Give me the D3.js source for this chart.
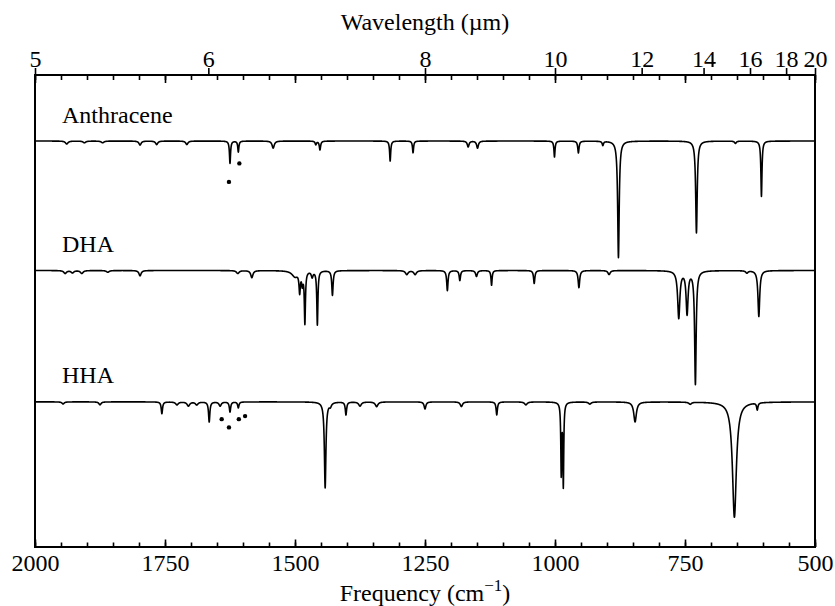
<!DOCTYPE html>
<html>
<head>
<meta charset="utf-8">
<script src="https://cdn.jsdelivr.net/npm/d3@7"></script>
<style>
  body { margin: 0; background: #fff; }
</style>
</head>
<body>
<svg id="chart" width="835" height="606"></svg>
<script>
// ---- axes ----
const freqDomain = [2000, 500];                       // cm^-1, high to low
const freqMajorTicks = [2000, 1750, 1500, 1250, 1000, 750, 500];
const freqMinorTicks = d3.range(2000, 499, -50);
const wavelengthTicks = [5, 6, 8, 10, 12, 14, 16, 18, 20];   // µm

// ---- spectra: band centre (cm^-1), depth (rel. absorbance), FWHM (cm^-1) ----
const compounds = ["Anthracene", "DHA", "HHA"];
const offsets = [0, -1.1, -2.216];

const anthraceneCenters = [1939, 1905, 1870, 1798, 1766, 1708, 1625, 1609, 1542, 1460, 1452, 1317, 1273, 1167, 1149, 1001, 955, 908, 878, 728, 653, 603];
const anthraceneDepths  = [0.025, 0.015, 0.015, 0.034, 0.03, 0.03, 0.19, 0.093, 0.06, 0.03, 0.075, 0.17, 0.10, 0.05, 0.06, 0.135, 0.10, 0.035, 0.99, 0.78, 0.02, 0.47];
const anthraceneWidths  = [6, 6, 6, 5, 5, 5, 2.5, 2.5, 5, 3, 3, 2.5, 2.5, 4, 4, 2.5, 3, 3, 3.5, 3.5, 4, 2.5];

const dhaCenters = [1942, 1928, 1910, 1860, 1798, 1610, 1583, 1500, 1491, 1486, 1481, 1467, 1457, 1428, 1285, 1269, 1207, 1183, 1151, 1122, 1040, 954, 896, 762, 746, 730, 631, 608];
const dhaDepths  = [0.025, 0.02, 0.025, 0.015, 0.045, 0.025, 0.06, 0.05, 0.17, 0.10, 0.44, 0.05, 0.46, 0.21, 0.034, 0.034, 0.17, 0.085, 0.05, 0.125, 0.11, 0.145, 0.034, 0.40, 0.36, 0.96, 0.02, 0.39];
const dhaWidths  = [6, 6, 6, 6, 5, 6, 5, 14, 3, 3, 2.5, 4, 2.5, 3, 6, 6, 3, 3, 4, 2.5, 3, 3.5, 5, 5, 4.5, 3.5, 5, 4];

const hhaCenters = [1946, 1875, 1756, 1727, 1705, 1689, 1665, 1644, 1625, 1609, 1442, 1432, 1402, 1375, 1343, 1250, 1180, 1112, 1056, 988, 984, 933, 846, 740, 655, 611];
const hhaDepths  = [0.018, 0.025, 0.10, 0.025, 0.035, 0.025, 0.17, 0.035, 0.085, 0.05, 0.73, 0.03, 0.11, 0.035, 0.04, 0.06, 0.04, 0.11, 0.025, 0.60, 0.70, 0.018, 0.17, 0.018, 0.98, 0.06];
const hhaWidths  = [5, 5, 3, 6, 6, 6, 3, 5, 3, 3, 3.5, 5, 3, 6, 6, 4, 5, 3, 6, 2, 2, 6, 6, 6, 9, 3];

// ---- marked bands (cm^-1, offset absorbance) ----
const anthraceneDotsX = [1627, 1607];
const anthraceneDotsY = [-0.347, -0.19];
const hhaDotsX = [1641, 1627, 1608, 1596];
const hhaDotsY = [-2.363, -2.433, -2.363, -2.337];

const labelOffsets = [0.155, -0.945, -2.055];

// ---- layout ----
const FONT = "'Liberation Serif', 'Times New Roman', Times, serif";
const svg = d3.select("#chart");
const plotL = 35, plotR = 815, plotT = 75, plotB = 547;

const x = d3.scaleLinear().domain(freqDomain).range([plotL, plotR]);
const y = d3.scaleLinear().domain([-3.449, 0.561]).range([plotB, plotT]);

// build each trace as a sum of Lorentzian bands sampled on a fine grid
const grid = d3.range(2000, 499.99, -0.25);
const bands = [
  { c: anthraceneCenters, d: anthraceneDepths, w: anthraceneWidths },
  { c: dhaCenters, d: dhaDepths, w: dhaWidths },
  { c: hhaCenters, d: hhaDepths, w: hhaWidths }
];
const traces = bands.map((b, k) => grid.map(nu => {
  let a = 0;
  for (let i = 0; i < b.c.length; i++) {
    const g = b.w[i] / 2;
    a += b.d[i] * g * g / ((nu - b.c[i]) ** 2 + g * g);
  }
  return [nu, offsets[k] - a];
}));

const line = d3.line().x(d => x(d[0])).y(d => y(d[1]));

svg.append("g").selectAll("path")
  .data(traces)
  .join("path")
  .attr("d", line)
  .attr("fill", "none")
  .attr("stroke", "#000")
  .attr("stroke-width", 1.6)
  .attr("stroke-linejoin", "round");

// band markers
const dots = anthraceneDotsX.map((v, i) => [v, anthraceneDotsY[i]])
  .concat(hhaDotsX.map((v, i) => [v, hhaDotsY[i]]));
svg.append("g").selectAll("circle")
  .data(dots)
  .join("circle")
  .attr("cx", d => x(d[0]))
  .attr("cy", d => y(d[1]))
  .attr("r", 2.2)
  .attr("fill", "#000");

// compound names
svg.append("g").selectAll("text")
  .data(compounds)
  .join("text")
  .attr("x", 62)
  .attr("y", (d, i) => y(labelOffsets[i]))
  .attr("font-family", FONT)
  .attr("font-size", 24)
  .text(d => d);

// ---- bottom axis (frequency) ----
const gB = svg.append("g").attr("transform", `translate(0,${plotB})`);
gB.append("g").call(d3.axisBottom(x).tickValues(freqMinorTicks).tickSize(-4.5).tickFormat(""))
  .call(g => g.select(".domain").remove());
gB.append("g").call(d3.axisBottom(x).tickValues(freqMajorTicks).tickSize(-7.5).tickPadding(7).tickFormat(d3.format("d")))
  .attr("font-family", FONT).attr("font-size", 24)
  .call(g => g.select(".domain").remove())
  .call(g => g.selectAll("text").attr("fill", "#000"));

// ---- top axis: frequency ticks pointing in, wavelength labels outside ----
const gT = svg.append("g").attr("transform", `translate(0,${plotT})`);
gT.append("g").call(d3.axisTop(x).tickValues(freqMinorTicks).tickSize(-5).tickFormat(""))
  .call(g => g.select(".domain").remove());
gT.append("g").call(d3.axisTop(x).tickValues(freqMajorTicks).tickSize(-8).tickFormat(""))
  .call(g => g.select(".domain").remove());
gT.append("g").call(d3.axisTop(x).tickValues(wavelengthTicks.map(l => 1e4 / l)).tickSize(7).tickPadding(1)
    .tickFormat(v => String(Math.round(1e4 / v))))
  .attr("font-family", FONT).attr("font-size", 24)
  .call(g => g.select(".domain").remove())
  .call(g => g.selectAll("text").attr("fill", "#000"));

svg.selectAll(".tick line").attr("stroke-width", 1.6);

// frame
svg.append("rect")
  .attr("x", plotL).attr("y", plotT)
  .attr("width", plotR - plotL).attr("height", plotB - plotT)
  .attr("fill", "none").attr("stroke", "#000").attr("stroke-width", 2);

// axis titles
svg.append("text")
  .attr("x", (plotL + plotR) / 2).attr("y", 30)
  .attr("text-anchor", "middle")
  .attr("font-family", FONT).attr("font-size", 24)
  .text("Wavelength (µm)");

const xt = svg.append("text")
  .attr("x", (plotL + plotR) / 2).attr("y", 601)
  .attr("text-anchor", "middle")
  .attr("font-family", FONT).attr("font-size", 24);
xt.append("tspan").text("Frequency (cm");
xt.append("tspan").attr("font-size", 17).attr("dy", -10).text("−1");
xt.append("tspan").attr("dy", 10).text(")");
</script>
</body>
</html>
